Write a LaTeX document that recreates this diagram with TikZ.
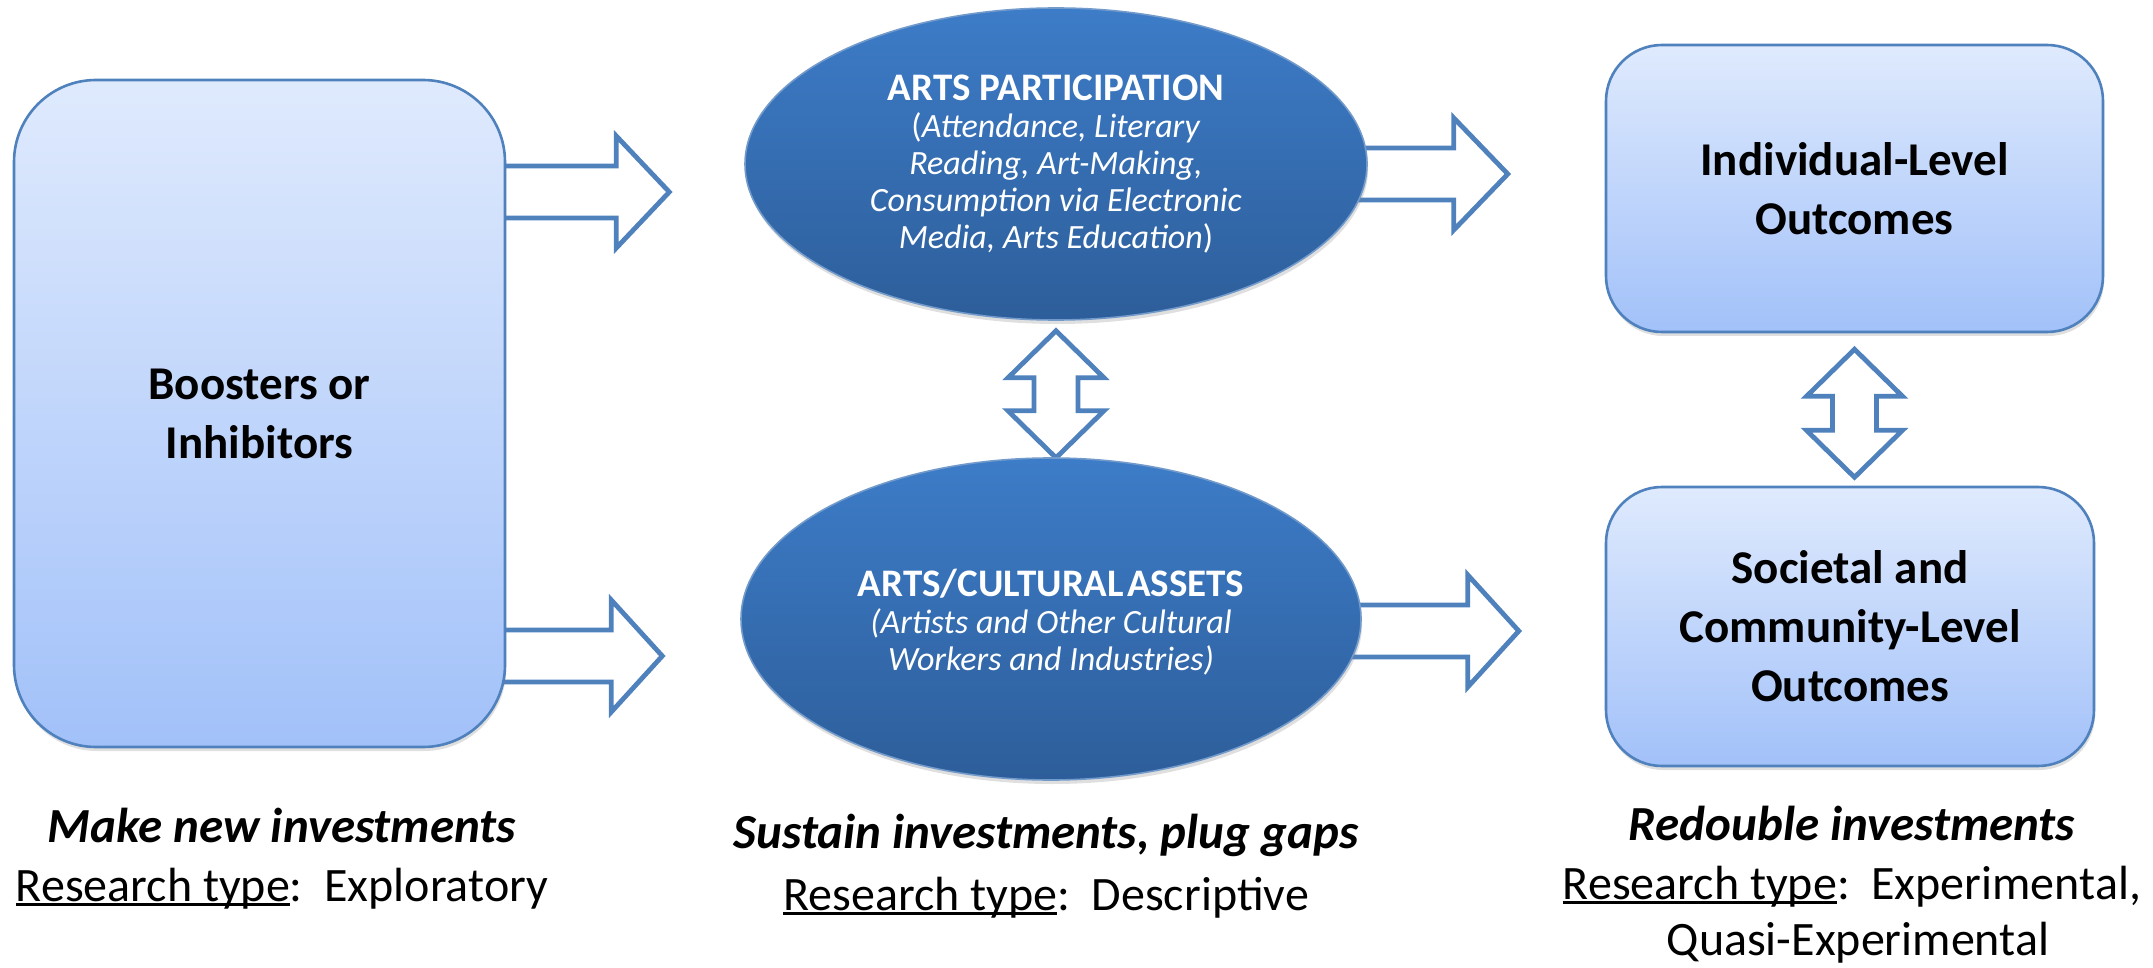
\documentclass[tikz,border=0pt]{standalone}
\usepackage{fontspec}
\setmainfont{Carlito}
\usetikzlibrary{shapes.geometric,shadows,backgrounds}
\definecolor{outl}{HTML}{4F81BD}
\definecolor{boxtop}{HTML}{DFEAFD}
\definecolor{boxbot}{HTML}{A2C1F9}
\definecolor{elltop}{HTML}{3D7CC8}
\definecolor{ellbot}{HTML}{2D5E9A}
\newcommand\ulbox[1]{\setbox0\hbox{#1}\rlap{\rule[-2.4pt]{\wd0}{1.4pt}}\box0}
\tikzset{
  softshadow/.style={drop shadow={shadow xshift=0.6pt, shadow yshift=-2pt, opacity=0.25}},
  roundbox/.style={draw=outl, line width=1.3pt, top color=boxtop, bottom color=boxbot, inner sep=0pt, align=center, font=\fontsize{23.5}{29.5}\selectfont\bfseries, softshadow},
  oval/.style={ellipse, draw=outl!80!white, line width=0.8pt, top color=elltop, bottom color=ellbot, inner sep=0pt, align=center, text=white, font=\fontsize{17}{18.6}\selectfont, softshadow},
  blk/.style={draw=outl, line width=2.4pt, fill=white, line join=miter, miter limit=10},
  caption/.style={anchor=base, font=\fontsize{24}{30}\selectfont},
  boldcap/.style={anchor=base, font=\fontsize{24.5}{30}\selectfont\bfseries\itshape},
  pics/rarrow/.style n args={2}{code={\draw[blk] (-25,-26) -- (#1,-26) -- (#1,-56) -- (#2,0) -- (#1,56) -- (#1,26) -- (-25,26);}},
  pics/vdarrow/.style={code={\draw[blk] (0,0) -- (48,47) -- (22,47) -- (22,#1-47) -- (48,#1-47) -- (0,#1) -- (-48,#1-47) -- (-22,#1-47) -- (-22,47) -- (-48,47) -- cycle;}},
}
\begin{document}
\begin{tikzpicture}[x=0.5pt,y=-0.5pt]
\useasboundingbox (0,0) rectangle (2153,968);

\node[roundbox, rounded corners=41pt, minimum width=245.5pt, minimum height=333.5pt] (boost) at (259.5,413.5) {Boosters or\\Inhibitors};

\node[oval, minimum width=311pt, minimum height=156pt] (part) at (1056,164)
  {{\fontsize{19.5}{18.6}\selectfont\bfseries ARTS PARTICIPATION}\\
   \textup{(}\textit{Attendance, Literary}\\
   \textit{Reading, Art-Making,}\\
   \textit{Consumption via Electronic}\\
   \textit{Media, Arts Education}\textup{)}};

\node[oval, minimum width=310pt, minimum height=161pt] (assets) at (1051,619)
  {\mbox{}\\[-2pt]
   {\fontsize{19.5}{18.6}\selectfont\bfseries ARTS/CULTURAL\kern-0.15em\ ASSETS}\\
   \textit{(Artists and Other Cultural}\\
   \textit{Workers and Industries)}};

\node[roundbox, rounded corners=28pt, minimum width=248.5pt, minimum height=143.5pt] (ind) at (1854.5,188.5) {Individual-Level\\Outcomes};
\node[roundbox, rounded corners=28pt, minimum width=244pt, minimum height=139.5pt] (soc) at (1850,626.5) {Societal and\\Community-Level\\Outcomes};

\begin{scope}[on background layer]
\pic at (boost.east |- 0,192) {rarrow={110}{163}};
\pic at (boost.east |- 0,656) {rarrow={105}{156}};
\pic at (part.east |- 0,174) {rarrow={86}{140}};
\pic at (assets.east |- 0,631) {rarrow={106}{157}};
\pic at ([yshift=-5pt]part.south) {vdarrow=127};
\pic at ([yshift=-8pt]ind.south) {vdarrow=128};
\end{scope}

\node[boldcap] (c1) at (282,842) {Make new investments};
\node[caption] (r1) at (282,901) {\ulbox{Research type}:\hspace{0.45em}Exploratory};
\node[boldcap] (c2) at (1046,848) {Sustain investments, plug gaps};
\node[caption] (r2) at (1046,910) {\ulbox{Research type}:\hspace{0.45em}Descriptive};
\node[boldcap] (c3) at (1852,840) {Redouble investments};
\node[caption] (r3) at (1852,899) {\ulbox{Research type}:\hspace{0.45em}Experimental,};
\node[caption] (r4) at (1858,955) {Quasi-Experimental};
\end{tikzpicture}
\end{document}
